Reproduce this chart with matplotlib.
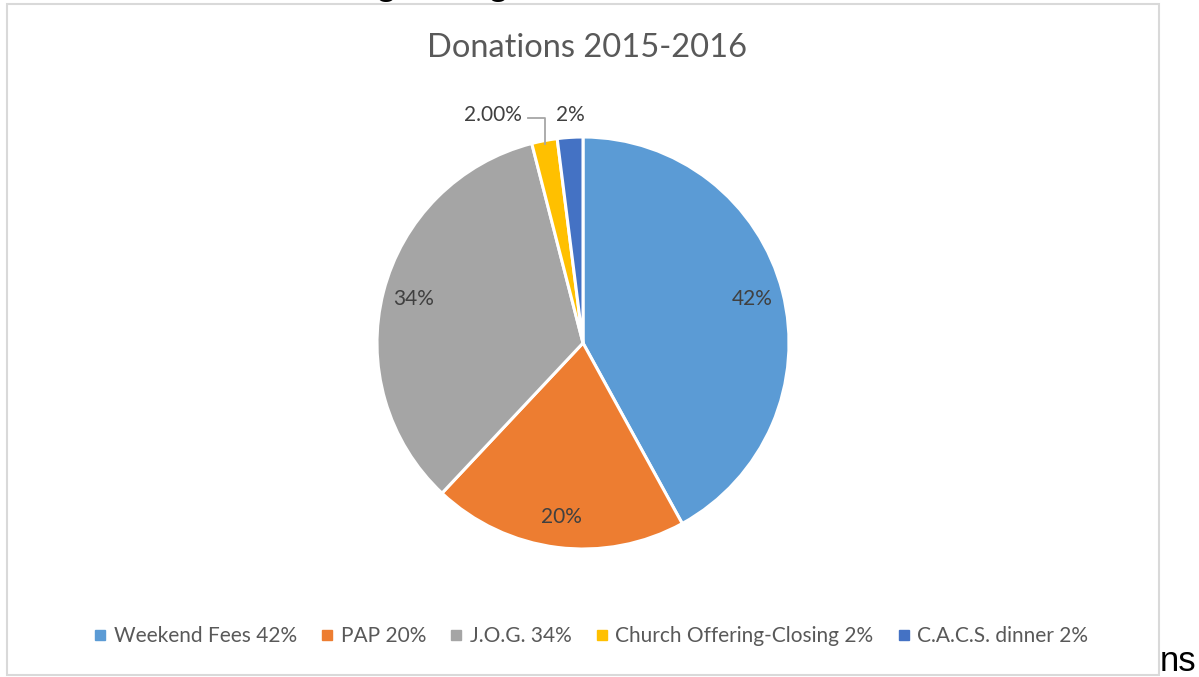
import matplotlib.pyplot as plt
from matplotlib.patches import Rectangle
from matplotlib.lines import Line2D
import numpy as np

# Data
labels = ['Weekend Fees 42%', 'PAP 20%', 'J.O.G. 34%', 'Church Offering-Closing 2%', 'C.A.C.S. dinner 2%']
values = [42, 20, 34, 2, 2]
value_labels = ['42%', '20%', '34%', '2.00%', '2%']
colors = ['#5B9BD5', '#ED7D31', '#A5A5A5', '#FFC000', '#4472C4']

W, H = 1199, 677
fig = plt.figure(figsize=(W / 100, H / 100), dpi=100)
ax = fig.add_axes([0, 0, 1, 1])

font = ['Lato', 'DejaVu Sans']
text_col = '#404040'

cx, cy, r = 583, H - 343, 206
wedges, _ = ax.pie(values, colors=colors, startangle=90, counterclock=False,
                   center=(cx, cy), radius=r, frame=True,
                   wedgeprops=dict(edgecolor='white', linewidth=2.2))
ax.set_xlim(0, W)
ax.set_ylim(0, H)
ax.axis('off')

# chart area border
ax.add_patch(Rectangle((7, H - 675), 1152, 671, fill=False, edgecolor='#D9D9D9', lw=1.5))

for i, w in enumerate(wedges):
    mid = np.deg2rad((w.theta1 + w.theta2) / 2)
    if values[i] >= 10:
        d = 0.85 * r
        ax.text(cx + d * np.cos(mid), cy + d * np.sin(mid), value_labels[i],
                ha='center', va='center', fontsize=15, color=text_col, family=font)
    elif i == 4:
        ax.text(cx - 13, H - 115, value_labels[i], ha='center', va='center',
                fontsize=15, color=text_col, family=font)
    else:
        ax.text(cx - 90, H - 115, value_labels[i], ha='center', va='center',
                fontsize=15, color=text_col, family=font)
        ex = cx + (r - 3) * np.cos(mid)
        ey = cy + (r - 3) * np.sin(mid)
        ax.plot([cx - 55, ex, ex], [H - 118, H - 118, ey], color='#A6A6A6', lw=1.3)

ax.text(587, H - 48, 'Donations 2015-2016', ha='center', va='center',
        fontsize=23.5, color='#595959', family=font)

handles = [Line2D([], [], marker='s', linestyle='', markersize=6.5, color=c) for c in colors]
leg = fig.legend(handles, labels, loc='center', bbox_to_anchor=(591 / W, 1 - 636 / H),
                 ncol=5, frameon=False, handlelength=0.6, handletextpad=0.35,
                 columnspacing=1.15, prop=dict(family=font, size=15))
for t in leg.get_texts():
    t.set_color('#595959')

# text from surrounding document
ax.text(1160, H - 671, 'ns', ha='left', va='baseline', fontsize=25,
        family='Liberation Sans', color='black')
for gx in [386, 498]:
    ax.text(gx, H + 5, 'g', ha='center', va='baseline', fontsize=25,
            family='Liberation Sans', fontweight='bold', color='black', clip_on=False)

fig.savefig('out.png', dpi=100)
